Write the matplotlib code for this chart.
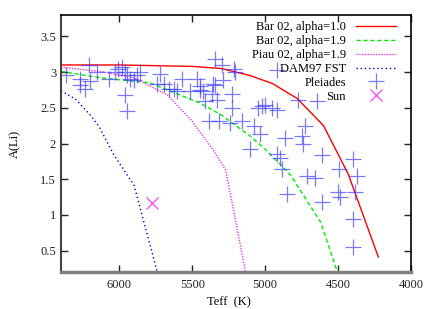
import numpy as np
import matplotlib.pyplot as plt

plt.rcParams['font.family'] = ['Liberation Serif', 'DejaVu Serif']

# model tracks (Teff, A(Li))
bar10_teff = [6400, 6000, 5500, 5300, 5100, 4950, 4780, 4600, 4430, 4224]
bar10_ali = [3.10, 3.10, 3.08, 3.05, 2.95, 2.84, 2.63, 2.25, 1.57, 0.41]

bar19_teff = [6400, 6130, 5790, 5670, 5450, 5300, 5100, 5000, 4830, 4620, 4480]
bar19_ali = [3.01, 2.92, 2.85, 2.75, 2.57, 2.40, 2.10, 1.92, 1.57, 0.90, 0.05]

piau_teff = [6400, 6100, 5900, 5670, 5500, 5360, 5300, 5270, 5120]
piau_ali = [3.07, 3.00, 2.92, 2.68, 2.31, 1.92, 1.73, 1.62, 0.05]

dam_teff = [6400, 6300, 6200, 6140, 6040, 5950, 5900, 5720]
dam_ali = [2.74, 2.62, 2.40, 2.24, 1.85, 1.57, 1.42, 0.05]

# Pleiades stars
ple_teff = [6365, 6267, 6267, 6233, 6199, 6153, 6210, 6073, 6027, 6007,
            5982, 5959, 5947, 5925, 5902, 5856, 5879, 5959, 5947, 5719,
            5742, 5697, 5662, 5628, 5605, 5571, 5514, 5468, 5445, 5423,
            5342, 5297, 5217, 5206, 5342, 5286, 5355, 5365, 5331, 5411,
            5228, 5228, 5445, 5320, 5388, 5240, 5160, 5080, 5034, 5103,
            5023, 5000, 4954, 4920, 5046, 4863, 4749, 4726, 4772, 4646,
            4738, 4612, 4920, 4897, 4886, 4714, 4658, 4847, 4612, 4491,
            4399, 4372, 4498, 4486, 4384, 4395, 4399, 4920]
ple_ali = [2.96, 2.91, 2.82, 2.77, 2.87, 3.00, 3.10, 2.91, 3.00, 3.05,
           3.07, 3.00, 2.96, 2.91, 2.89, 3.00, 2.96, 2.68, 2.45, 2.98,
           2.84, 2.84, 2.77, 2.77, 2.73, 2.91, 2.73, 2.91, 2.80, 2.73,
           3.19, 3.10, 3.05, 3.00, 2.82, 2.89, 2.84, 2.70, 2.61, 2.59,
           2.70, 2.50, 2.75, 2.31, 2.31, 2.29, 2.31, 2.24, 2.13, 1.92,
           2.52, 2.54, 2.50, 2.47, 2.50, 2.08, 2.10, 2.24, 2.61, 2.59,
           1.99, 1.84, 1.85, 1.80, 1.64, 1.55, 1.52, 1.29, 1.18, 1.64,
           1.78, 1.55, 1.32, 1.25, 1.32, 0.94, 0.55, 3.03]

sun_teff = [5777]
sun_ali = [1.16]

fig = plt.figure(figsize=(4.32, 3.09), dpi=100)
ax = fig.add_axes([61 / 432, 1 - 272 / 309, 350 / 432, 257 / 309])

ax.plot(bar10_teff, bar10_ali, color='#ff0000', lw=1.0, label='Bar 02, alpha=1.0')
ax.plot(bar19_teff, bar19_ali, color='#00ee00', lw=1.0, ls=(0, (3, 2)),
        label='Bar 02, alpha=1.9')
ax.plot(piau_teff, piau_ali, color='#ff33ff', lw=1.0, ls=(0, (1, 1)),
        label='Piau 02, alpha=1.9')
ax.plot(dam_teff, dam_ali, color='#0000ff', lw=1.0, ls=(0, (1, 2)),
        label='DAM97 FST')
ax.plot(ple_teff, ple_ali, ls='none', marker='+', ms=11, mew=0.9,
        color='#3333ff', alpha=0.65, label='Pleiades')
ax.plot(sun_teff, sun_ali, ls='none', marker='x', ms=9, mew=0.9,
        color='#ff44ff', label='Sun')

ax.set_xlim(6400, 4000)
ax.set_ylim(0.2, 3.8)
ax.set_xticks([6000, 5500, 5000, 4500, 4000])
ax.set_yticks([0.5, 1, 1.5, 2, 2.5, 3, 3.5])
ax.set_yticklabels(['0.5', '1', '1.5', '2', '2.5', '3', '3.5'])
ax.tick_params(direction='in', top=True, right=True, length=5, width=1,
               labelsize=9, colors='#222222')
ax.tick_params(axis='x', pad=5)

ax.spines['bottom'].set_color('#808080')
ax.spines['bottom'].set_linewidth(2.5)
ax.spines['left'].set_color('#444444')
ax.spines['left'].set_linewidth(1.5)
ax.spines['top'].set_linewidth(1.2)
ax.spines['right'].set_linewidth(1.2)

ax.set_xlabel('Teff  (K)', fontsize=9, labelpad=2)
ax.xaxis.set_label_coords(0.48, -0.095)
ax.set_ylabel('A(Li)', fontsize=9, labelpad=14)

ax.legend(loc='upper right', bbox_to_anchor=(0.975, 1.0), frameon=False,
          markerfirst=False, fontsize=9, handlelength=3.2, labelspacing=0.15,
          borderaxespad=0.1, handletextpad=0.8, alignment='right')

fig.savefig('out.png', dpi=100)
